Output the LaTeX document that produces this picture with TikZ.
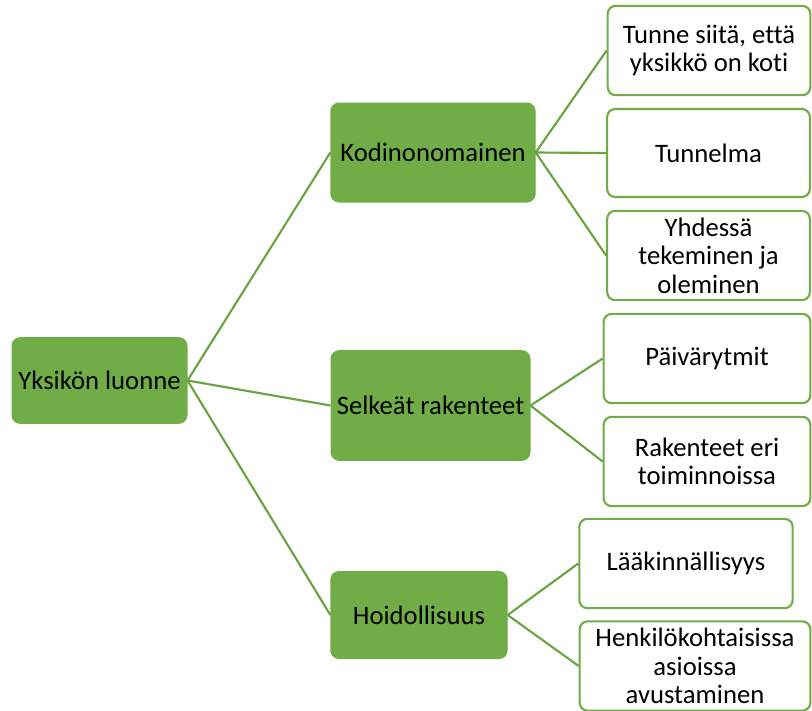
\documentclass[tikz,border=0pt]{standalone}
\usepackage{fontspec}
\setmainfont[Ligatures={NoCommon}]{Carlito}
\usepackage{tikz}
\usetikzlibrary{positioning}

\definecolor{leafgreen}{HTML}{70AD47}
\definecolor{linegreen}{HTML}{6AA442}

\tikzset{
  mainbox/.style={rounded corners=6pt, fill=leafgreen, draw=leafgreen, line width=1pt,
    inner sep=0pt, align=center, font=\fontsize{20}{21.4}\selectfont},
  leafbox/.style={rounded corners=6pt, fill=white, draw=leafgreen, line width=1.6pt,
    inner sep=0pt, align=center, font=\fontsize{20}{21.4}\selectfont},
  link/.style={draw=linegreen, line width=1.6pt}
}

\begin{document}
\begin{tikzpicture}[x=0.75pt, y=-0.75pt]
  \useasboundingbox (0,0) rectangle (812,710);

  % root
  \node[mainbox, minimum width=131pt, minimum height=64pt] (root) at (99.5,380.5) {Yksikön luonne};

  % middle level
  \node[mainbox, minimum width=153pt, minimum height=74pt] (koti) at (433,152.5) {Kodinonomainen};
  \node[mainbox, minimum width=149pt, minimum height=82pt] (rakenne) at (430.5,405.5) {Selkeät rakenteet};
  \node[mainbox, minimum width=132pt, minimum height=65pt] (hoito) at (419,615) {Hoidollisuus};

  % leaves
  \node[leafbox, minimum width=152pt, minimum height=67pt] (tunne) at (709,50.5) {Tunne siitä, että\\yksikkö on koti};
  \node[leafbox, minimum width=152pt, minimum height=66pt] (tunnelma) at (708.5,153) {Tunnelma};
  \node[leafbox, minimum width=152pt, minimum height=67pt] (yhdessa) at (708.5,255.5) {Yhdessä\\tekeminen ja\\oleminen};
  \node[leafbox, minimum width=155pt, minimum height=67pt] (rytmi) at (707,358.5) {Päivärytmit};
  \node[leafbox, minimum width=155pt, minimum height=67pt] (toiminta) at (707,461.5) {Rakenteet eri\\toiminnoissa};
  \node[leafbox, minimum width=160pt, minimum height=67pt] (laake) at (686,563.5) {Lääkinnällisyys};
  \node[leafbox, minimum width=173pt, minimum height=67pt] (avustus) at (695,666) {Henkilökohtaisissa\\asioissa\\avustaminen};

  % connectors
  \foreach \child in {koti, rakenne, hoito}
    \draw[link] (root.east) -- (\child.west);
  \foreach \child in {tunne, tunnelma, yhdessa}
    \draw[link] (koti.east) -- (\child.west);
  \foreach \child in {rytmi, toiminta}
    \draw[link] (rakenne.east) -- (\child.west);
  \foreach \child in {laake, avustus}
    \draw[link] (hoito.east) -- (\child.west);
\end{tikzpicture}
\end{document}
